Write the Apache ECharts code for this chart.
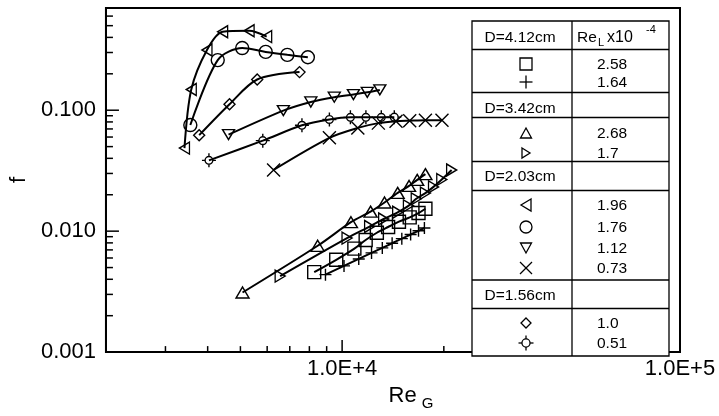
<!DOCTYPE html>
<html>
<head>
<meta charset="utf-8">
<script src="https://cdn.jsdelivr.net/npm/echarts@6/dist/echarts.min.js"></script>
<style>
  html, body { margin: 0; padding: 0; background: #fff; }
  #chart { width: 719px; height: 416px; }
</style>
</head>
<body>
<div id="chart"></div>
<script>
// axis range and ticks
var X_MIN = 2000, X_MAX = 100000;
var Y_MIN = 0.001, Y_MAX = 0.7;
var xTickValues = [3000, 4000, 5000, 6000, 7000, 8000, 9000, 10000,
  20000, 30000, 40000, 50000, 60000, 70000, 80000, 90000];
var yTickValues = [0.002, 0.003, 0.004, 0.005, 0.006, 0.007, 0.008, 0.009, 0.01,
  0.02, 0.03, 0.04, 0.05, 0.06, 0.07, 0.08, 0.09, 0.1,
  0.2, 0.3, 0.4, 0.5, 0.6];

// D=4.12cm
var reSquare = [8268, 9607, 10870, 11740, 12670, 13680, 14730, 15850, 16830, 17640];
var fSquare  = [0.00458, 0.0058, 0.00717, 0.00845, 0.0097, 0.01082, 0.01197, 0.0130, 0.01411, 0.01532];
var rePlus = [8927, 10130, 11200, 12220, 13150, 14060, 15020, 15950, 16830, 17520];
var fPlus  = [0.00437, 0.00516, 0.00589, 0.00661, 0.00727, 0.00794, 0.00867, 0.00938, 0.01007, 0.01062];
// D=3.42cm
var reTriUp = [5073, 8465, 10620, 12140, 13350, 14600, 15780, 16680, 17640];
var fTriUp  = [0.00311, 0.00757, 0.01186, 0.0145, 0.01726, 0.02073, 0.02365, 0.02655, 0.02963];
var reTriRight = [6555, 10340, 12060, 13270, 14600, 15710, 16570, 17640, 18640, 19720, 21090];
var fTriRight  = [0.00425, 0.00876, 0.01092, 0.0126, 0.01432, 0.01619, 0.01851, 0.02065, 0.02323, 0.0267, 0.03206];
// D=2.03cm
var reTriLeft = [3415, 3577, 3981, 4430, 5305, 5980];
var fTriLeft  = [0.0486, 0.1485, 0.315, 0.4457, 0.454, 0.406];
var reCircle = [3554, 4284, 5062, 5941, 6884, 7917];
var fCircle  = [0.0754, 0.2597, 0.3266, 0.3034, 0.287, 0.274];
var reTriDown = [4611, 6700, 8079, 9480, 10800, 11870, 12930];
var fTriDown  = [0.0628, 0.0993, 0.117, 0.1282, 0.1348, 0.1406, 0.1472];
var reCross = [6268, 9170, 11130, 12800, 14440, 15850, 17640, 19750];
var fCross  = [0.0321, 0.0591, 0.0714, 0.0782, 0.0811, 0.0819, 0.0826, 0.0826];
// D=1.56cm
var reDiamond = [3775, 4642, 5606, 7480];
var fDiamond  = [0.0622, 0.1122, 0.1794, 0.2065];
var reCircPlus = [4035, 5824, 7605, 9169, 10580, 11760, 13060, 14270];
var fCircPlus  = [0.0385, 0.056, 0.075, 0.0839, 0.0873, 0.0873, 0.0873, 0.0876];

var FONT = 'Liberation Sans, Arial, sans-serif';

// marker outlines
var symPaths = {
  square: 'M0,0L10,0L10,10L0,10Z',
  plus: 'M0,5L10,5M5,0L5,10',
  triUp: 'M5,0L10,9L0,9Z',
  triRight: 'M0,0L9,5L0,10Z',
  triLeft: 'M9,0L0,5L9,10Z',
  triDown: 'M0,0L10,0L5,9Z',
  circle: 'M10,5A5,5,0,1,1,0,5A5,5,0,1,1,10,5Z',
  cross: 'M0,0L10,10M10,0L0,10',
  diamond: 'M5,0L10,5L5,10L0,5Z',
  circPlus: 'M0,10L4.5,10M15.5,10L20,10M10,0L10,4.5M10,15.5L10,20M15.5,10A5.5,5.5,0,1,1,4.5,10A5.5,5.5,0,1,1,15.5,10Z'
};

var seriesDefs = [
  { name: '2.58', sym: 'square', size: 13, x: reSquare, y: fSquare },
  { name: '1.64', sym: 'plus', size: 12, x: rePlus, y: fPlus },
  { name: '2.68', sym: 'triUp', size: [13, 11], x: reTriUp, y: fTriUp },
  { name: '1.7', sym: 'triRight', size: [10, 12], x: reTriRight, y: fTriRight },
  { name: '1.96', sym: 'triLeft', size: [10, 12], x: reTriLeft, y: fTriLeft },
  { name: '1.76', sym: 'circle', size: 13, x: reCircle, y: fCircle },
  { name: '1.12', sym: 'triDown', size: [12, 10], x: reTriDown, y: fTriDown },
  { name: '0.73', sym: 'cross', size: 13, x: reCross, y: fCross },
  { name: '1.0', sym: 'diamond', size: 11, x: reDiamond, y: fDiamond },
  { name: '0.51', sym: 'circPlus', size: 14, x: reCircPlus, y: fCircPlus }
];

function isDecade(v) {
  var l = Math.log10(v);
  return Math.abs(l - Math.round(l)) < 1e-6;
}

var series = seriesDefs.map(function (d) {
  return {
    name: d.name,
    type: 'line',
    smooth: 0.3,
    symbol: 'path://' + symPaths[d.sym],
    symbolSize: d.size,
    showSymbol: true,
    lineStyle: { color: '#000', width: 2 },
    itemStyle: { color: 'transparent', borderColor: '#000', borderWidth: 1.4 },
    emphasis: { disabled: true },
    z: 3,
    data: d.x.map(function (v, i) { return [v, d.y[i]]; })
  };
});

// inside tick marks on the bottom and left axes
series.push({
  type: 'custom',
  silent: true,
  clip: false,
  z: 5,
  data: xTickValues.map(function (v) { return [v, Y_MIN]; }),
  renderItem: function (params, api) {
    var p = api.coord([api.value(0), api.value(1)]);
    var len = isDecade(api.value(0)) ? 12 : 6;
    return { type: 'line', shape: { x1: p[0], y1: p[1], x2: p[0], y2: p[1] - len },
      style: { stroke: '#000', lineWidth: 1.5 } };
  }
});
series.push({
  type: 'custom',
  silent: true,
  clip: false,
  z: 5,
  data: yTickValues.map(function (v) { return [X_MIN, v]; }),
  renderItem: function (params, api) {
    var p = api.coord([api.value(0), api.value(1)]);
    var len = isDecade(api.value(1)) ? 13 : 7;
    return { type: 'line', shape: { x1: p[0], y1: p[1], x2: p[0] + len, y2: p[1] },
      style: { stroke: '#000', lineWidth: 1.5 } };
  }
});

// legend table
var TX0 = 472, TX1 = 669, TXM = 572, TY0 = 21, TY1 = 356;
var rowLines = [49.5, 92.5, 117.5, 161.5, 190.5, 280, 308.5];
var legendItems = [
  { sym: 'square', size: [12, 12], y: 64, label: '2.58' },
  { sym: 'plus', size: [13, 13], y: 82, label: '1.64' },
  { sym: 'triUp', size: [11, 10], y: 133, label: '2.68' },
  { sym: 'triRight', size: [8, 10], y: 153, label: '1.7' },
  { sym: 'triLeft', size: [10, 12], y: 205, label: '1.96' },
  { sym: 'circle', size: [12, 12], y: 227, label: '1.76' },
  { sym: 'triDown', size: [11, 10], y: 248, label: '1.12' },
  { sym: 'cross', size: [12, 12], y: 268, label: '0.73' },
  { sym: 'diamond', size: [10, 10], y: 323, label: '1.0' },
  { sym: 'circPlus', size: [15, 15], y: 343, label: '0.51' }
];
var groupTitles = [
  { text: 'D=4.12cm', y: 38 },
  { text: 'D=3.42cm', y: 108.5 },
  { text: 'D=2.03cm', y: 177 },
  { text: 'D=1.56cm', y: 296 }
];

var LS = { fill: 'none', stroke: '#000', lineWidth: 1.3 };
function seg(x1, y1, x2, y2) {
  return { type: 'line', z: 102, shape: { x1: x1, y1: y1, x2: x2, y2: y2 }, style: LS };
}
function poly(pts) {
  return { type: 'polygon', z: 102, shape: { points: pts }, style: LS };
}
// legend key glyphs built from graphic primitives
function legendSymbol(sym, cx, cy, w, h) {
  var l = cx - w / 2, r = cx + w / 2, t = cy - h / 2, b = cy + h / 2;
  switch (sym) {
    case 'square': return [{ type: 'rect', z: 102, shape: { x: l, y: t, width: w, height: h }, style: LS }];
    case 'plus': return [seg(l, cy, r, cy), seg(cx, t, cx, b)];
    case 'cross': return [seg(l, t, r, b), seg(r, t, l, b)];
    case 'triUp': return [poly([[cx, t], [r, b], [l, b]])];
    case 'triDown': return [poly([[l, t], [r, t], [cx, b]])];
    case 'triRight': return [poly([[l, t], [r, cy], [l, b]])];
    case 'triLeft': return [poly([[r, t], [l, cy], [r, b]])];
    case 'diamond': return [poly([[cx, t], [r, cy], [cx, b], [l, cy]])];
    case 'circle': return [{ type: 'circle', z: 102, shape: { cx: cx, cy: cy, r: w / 2 }, style: LS }];
    case 'circPlus':
      var rr = w * 0.27;
      return [{ type: 'circle', z: 102, shape: { cx: cx, cy: cy, r: rr }, style: LS },
        seg(l, cy, cx - rr, cy), seg(cx + rr, cy, r, cy), seg(cx, t, cx, cy - rr), seg(cx, cy + rr, cx, b)];
  }
  return [];
}

var g = [];
g.push({ type: 'rect', z: 100, shape: { x: TX0, y: TY0, width: TX1 - TX0, height: TY1 - TY0 },
  style: { fill: '#fff', stroke: '#000', lineWidth: 1.3 } });
g.push({ type: 'line', z: 101, shape: { x1: TXM, y1: TY0, x2: TXM, y2: TY1 },
  style: { stroke: '#000', lineWidth: 1.3 } });
rowLines.forEach(function (y) {
  g.push({ type: 'line', z: 101, shape: { x1: TX0, y1: y, x2: TX1, y2: y },
    style: { stroke: '#000', lineWidth: 1.3 } });
});
function txt(text, x, y, size, align) {
  return { type: 'text', z: 102, x: x, y: y,
    style: { text: text, font: size + 'px ' + FONT, fill: '#000',
      align: align || 'center', verticalAlign: 'middle',
      textAlign: align || 'center', textVerticalAlign: 'middle' } };
}
groupTitles.forEach(function (t) { g.push(txt(t.text, 520, t.y, 15.5)); });
g.push(txt('Re', 577, 38, 15.5, 'left'));
g.push(txt('L', 598, 43, 11, 'left'));
g.push(txt('x10', 620, 38, 16));
g.push(txt('-4', 646, 30, 11, 'left'));
legendItems.forEach(function (it) {
  g = g.concat(legendSymbol(it.sym, 526, it.y, it.size[0], it.size[1]));
  g.push(txt(it.label, 597, it.y + 0.5, 15.5, 'left'));
});

var chart = echarts.init(document.getElementById('chart'));
chart.setOption({
  animation: false,
  backgroundColor: '#fff',
  grid: { left: 94, right: 39, top: 8, bottom: 50, show: true, borderColor: '#000', borderWidth: 2,
    backgroundColor: 'transparent' },
  xAxis: {
    type: 'log', logBase: 10, min: X_MIN, max: X_MAX,
    axisLine: { lineStyle: { color: '#000', width: 2 } },
    axisTick: { show: false },
    splitLine: { show: false },
    axisLabel: {
      margin: 6, color: '#000', fontSize: 22, fontFamily: FONT,
      formatter: function (v) { return isDecade(v) ? v.toExponential(1).toUpperCase() : ''; }
    },
    name: '{a|Re}{b|G}',
    nameLocation: 'middle',
    nameGap: 26,
    nameTextStyle: {
      padding: [0, 0, 0, 36],
      rich: {
        a: { fontSize: 22, fontFamily: FONT, color: '#000', lineHeight: 22, verticalAlign: 'top' },
        b: { fontSize: 15, fontFamily: FONT, color: '#000', lineHeight: 26, verticalAlign: 'bottom', padding: [0, 0, 0, 5] }
      }
    }
  },
  yAxis: {
    type: 'log', logBase: 10, min: Y_MIN, max: Y_MAX,
    axisLine: { lineStyle: { color: '#000', width: 2 } },
    axisTick: { show: false },
    splitLine: { show: false },
    axisLabel: {
      margin: 10, color: '#000', fontSize: 22, fontFamily: FONT,
      formatter: function (v) { return isDecade(v) ? v.toFixed(3) : ''; }
    },
    name: 'f',
    nameLocation: 'middle',
    nameGap: 70,
    nameRotate: 90,
    nameTextStyle: { fontSize: 22, fontFamily: FONT, color: '#000' }
  },
  graphic: { elements: g },
  series: series
});
</script>
</body>
</html>
